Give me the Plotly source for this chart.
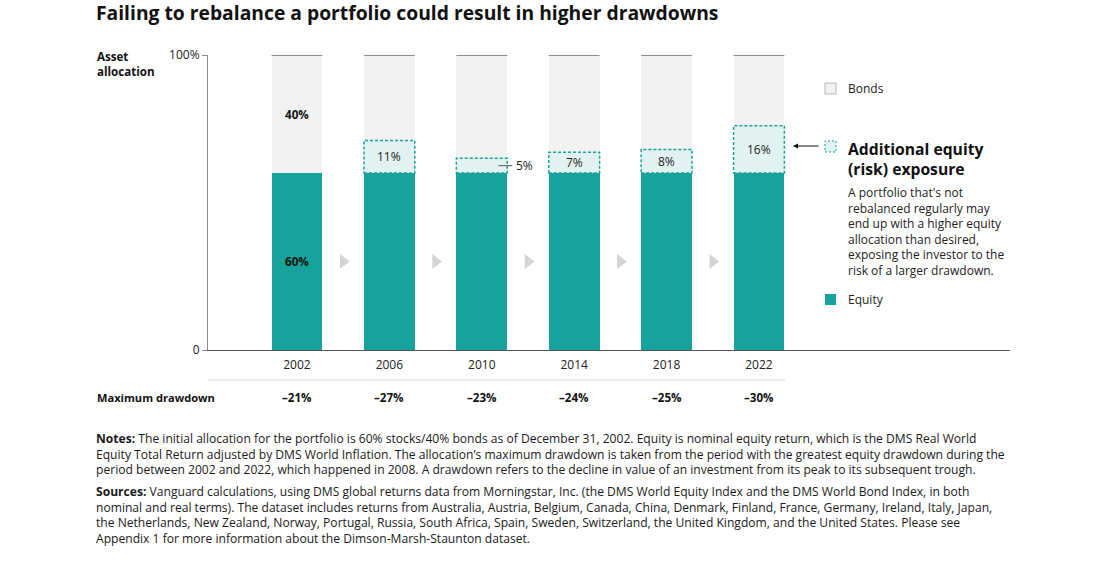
import plotly.graph_objects as go

# chart data
years = ["2002", "2006", "2010", "2014", "2018", "2022"]
equity = [60, 60, 60, 60, 60, 60]
extra_equity = [0, 11, 5, 7, 8, 16]
max_drawdown = ["–21%", "–27%", "–23%", "–24%", "–25%", "–30%"]
bonds = [100 - e - a for e, a in zip(equity, extra_equity)]

TEAL = "#17a39b"
TEAL_LIGHT = "#e2f2f1"
BOND_GREY = "#f2f2f2"
FONT = "Open Sans"
W, H = 1103, 567
L, R, T, B = 208, 1010, 55, 350  # plot area in pixels
BAR_W = 0.55
x = list(range(len(years)))


def px(xp):
    return (xp - L) / (R - L)


def py(yp):
    return (B - yp) / (B - T)


fig = go.Figure()

fig.add_trace(go.Bar(x=x, y=equity, marker=dict(color=TEAL, line_width=0),
                     width=BAR_W, hoverinfo="skip"))
fig.add_trace(go.Bar(x=x, y=extra_equity, marker=dict(color=TEAL_LIGHT, line_width=0),
                     width=BAR_W, hoverinfo="skip"))
fig.add_trace(go.Bar(x=x, y=bonds, marker=dict(color=BOND_GREY, line_width=0),
                     width=BAR_W, hoverinfo="skip"))

# grey chevrons between the bars
fig.add_trace(go.Scatter(x=[i + 0.5 for i in x[:-1]], y=[30] * (len(x) - 1), mode="markers",
                         marker=dict(symbol="triangle-right", size=13, color="#d4d4d4"),
                         hoverinfo="skip"))

shapes = []
annotations = []
for i in x:
    # top rule at 100%
    shapes.append(dict(type="line", xref="x", yref="y", x0=i - BAR_W / 2, x1=i + BAR_W / 2,
                       y0=100, y1=100, line=dict(color="#8c8c8c", width=2)))
    if extra_equity[i] > 0:
        shapes.append(dict(type="rect", xref="x", yref="y", x0=i - BAR_W / 2, x1=i + BAR_W / 2,
                           y0=equity[i], y1=equity[i] + extra_equity[i],
                           line=dict(color=TEAL, width=1.5, dash="3px,2px")))
        mid = equity[i] + extra_equity[i] / 2
        if extra_equity[i] >= 7:
            annotations.append(dict(x=i, y=mid, xref="x", yref="y", text=f"{extra_equity[i]}%",
                                    showarrow=False, font=dict(size=12, color="#222")))
        else:
            shapes.append(dict(type="line", xref="x", yref="y", x0=i + 0.18, x1=i + 0.33,
                               y0=mid, y1=mid, line=dict(color="#555", width=1)))
            annotations.append(dict(x=i + 0.35, y=mid, xref="x", yref="y", text=f"{extra_equity[i]}%",
                                    xanchor="left", showarrow=False, font=dict(size=12, color="#222")))
    annotations.append(dict(x=i, y=py(397), xref="x", yref="paper", text=f"<b>{max_drawdown[i]}</b>",
                            yanchor="middle", showarrow=False, font=dict(size=11.6, color="#111")))

annotations.append(dict(x=0, y=equity[0] / 2, xref="x", yref="y", text=f"<b>{equity[0]}%</b>",
                        showarrow=False, font=dict(size=11.6, color="#111")))
annotations.append(dict(x=0, y=equity[0] + bonds[0] / 2, xref="x", yref="y", text=f"<b>{bonds[0]}%</b>",
                        showarrow=False, font=dict(size=11.6, color="#111")))

# separator under the year labels
shapes.append(dict(type="line", xref="paper", yref="paper", x0=0, x1=px(785), y0=py(380), y1=py(380),
                   line=dict(color="#dcdcdc", width=1)))

# legend drawn by hand
shapes.append(dict(type="rect", xref="paper", yref="paper", x0=px(825), x1=px(836), y0=py(94), y1=py(83),
                   fillcolor=BOND_GREY, line=dict(color="#b5b5b5", width=1)))
shapes.append(dict(type="rect", xref="paper", yref="paper", x0=px(825), x1=px(836), y0=py(152), y1=py(141),
                   fillcolor=TEAL_LIGHT, line=dict(color=TEAL, width=1, dash="2px,2px")))
shapes.append(dict(type="rect", xref="paper", yref="paper", x0=px(825), x1=px(836), y0=py(305), y1=py(294),
                   fillcolor=TEAL, line=dict(width=0)))

annotations += [
    dict(x=px(846), y=py(88), xref="paper", yref="paper", text="Bonds", xanchor="left", yanchor="middle",
         showarrow=False, font=dict(size=12, color="#222")),
    dict(x=px(846), y=py(299), xref="paper", yref="paper", text="Equity", xanchor="left", yanchor="middle",
         showarrow=False, font=dict(size=12, color="#222")),
    dict(x=px(846), y=py(136), xref="paper", yref="paper", yanchor="top", align="left",
         text="<b>Additional equity<br>(risk) exposure</b>", xanchor="left",
         showarrow=False, font=dict(size=15.7, color="#111")),
    dict(x=px(846), y=py(182), xref="paper", yref="paper", yanchor="top", align="left", xanchor="left",
         text="A portfolio that's not<br>rebalanced regularly may<br>end up with a higher equity<br>"
              "allocation than desired,<br>exposing the investor to the<br>risk of a larger drawdown.",
         showarrow=False, font=dict(size=12, color="#222")),
    dict(x=px(793), y=py(146), xref="paper", yref="paper", ax=27, ay=0, text="",
         showarrow=True, arrowhead=2, arrowsize=1, arrowwidth=1, arrowcolor="#111"),
    dict(x=px(95), y=py(47), xref="paper", yref="paper", xanchor="left", yanchor="top", align="left",
         text="<b>Asset<br>allocation</b>", showarrow=False, font=dict(size=11.6, color="#111")),
    dict(x=px(95), y=py(397), xref="paper", yref="paper", xanchor="left", yanchor="middle",
         text="<b>Maximum drawdown</b>", showarrow=False, font=dict(size=11.1, color="#111")),
    dict(x=px(94), y=py(12), xref="paper", yref="paper", xanchor="left", yanchor="middle",
         text="<b>Failing to rebalance a portfolio could result in higher drawdowns</b>",
         showarrow=False, font=dict(size=19.3, color="#111")),
    dict(x=px(94), y=py(428), xref="paper", yref="paper", xanchor="left", yanchor="top", align="left",
         text="<b>Notes:</b> The initial allocation for the portfolio is 60% stocks/40% bonds as of December 31, 2002. "
              "Equity is nominal equity return, which is the DMS Real World<br>"
              "Equity Total Return adjusted by DMS World Inflation. The allocation’s maximum drawdown is taken "
              "from the period with the greatest equity drawdown during the<br>"
              "period between 2002 and 2022, which happened in 2008. A drawdown refers to the decline in value "
              "of an investment from its peak to its subsequent trough.",
         showarrow=False, font=dict(size=12.1, color="#1a1a1a")),
    dict(x=px(94), y=py(481), xref="paper", yref="paper", xanchor="left", yanchor="top", align="left",
         text="<b>Sources:</b> Vanguard calculations, using DMS global returns data from Morningstar, Inc. "
              "(the DMS World Equity Index and the DMS World Bond Index, in both<br>"
              "nominal and real terms). The dataset includes returns from Australia, Austria, Belgium, Canada, "
              "China, Denmark, Finland, France, Germany, Ireland, Italy, Japan,<br>"
              "the Netherlands, New Zealand, Norway, Portugal, Russia, South Africa, Spain, Sweden, Switzerland, "
              "the United Kingdom, and the United States. Please see<br>"
              "Appendix 1 for more information about the Dimson-Marsh-Staunton dataset.",
         showarrow=False, font=dict(size=12.1, color="#1a1a1a")),
]

fig.update_layout(
    width=W, height=H, autosize=False,
    margin=dict(l=L, r=W - R, t=T, b=H - B, pad=0),
    paper_bgcolor="white", plot_bgcolor="white",
    barmode="stack", bargap=0, showlegend=False,
    font=dict(family=FONT, size=12, color="#222"),
    shapes=shapes, annotations=annotations,
    xaxis=dict(range=[-0.963, 7.717], tickvals=x, ticktext=years, showgrid=False, zeroline=False,
               showline=True, linecolor="#555", linewidth=1, ticks="", tickfont=dict(size=12, color="#222"),
               ticklabelstandoff=4, fixedrange=True),
    yaxis=dict(range=[0, 100], tickvals=[0, 100], ticktext=["0", "100%"], showgrid=False, zeroline=False,
               showline=True, linecolor="#8a8a8a", linewidth=1, ticks="outside", ticklen=5,
               tickcolor="#8a8a8a", tickfont=dict(size=12, color="#222"), fixedrange=True),
)

# drop the browser's default body margin so the figure sits at the page corner
fig.write_html("out.html", config={"displayModeBar": False},
               post_script="document.body.style.margin='0';")
